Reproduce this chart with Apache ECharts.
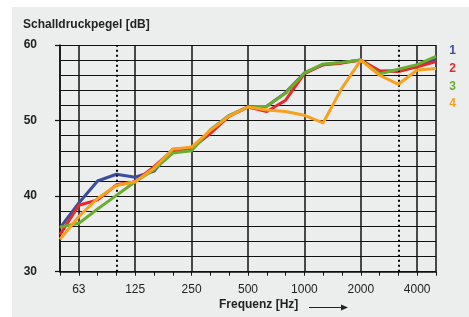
<!DOCTYPE html>
<html>
<head>
<meta charset="utf-8">
<script src="https://cdn.jsdelivr.net/npm/echarts@6/dist/echarts.min.js"></script>
<style>
html,body{margin:0;padding:0;background:#fff;}
#bg{position:absolute;left:12px;top:7px;right:0;bottom:0;width:457px;height:310px;background:#eceeed;}
#c{position:absolute;left:0;top:0;width:469px;height:317px;}
</style>
</head>
<body>
<div id="bg"></div>
<div id="c"></div>
<script>
const bands = ['50','63','80','100','125','160','200','250','315','400','500','630','800','1000','1250','1600','2000','2500','3150','4000','5000'];
const labelBands = ['63','125','250','500','1000','2000','4000'];
const dottedBands = ['100','3150'];
const yTicks = [30,40,50,60];
const s1 = [35.8,39.1,42.0,42.9,42.5,43.3,46.2,46.3,48.5,50.6,51.8,51.9,53.7,56.3,57.4,57.7,58.0,56.5,56.6,57.3,58.1];
const s2 = [34.9,38.8,39.5,41.5,41.9,43.9,46.1,46.3,48.3,50.6,51.8,51.2,52.7,56.2,57.4,57.6,58.0,56.6,56.5,57.1,57.8];
const s3 = [35.9,36.4,38.3,40.1,41.9,43.5,45.7,46.0,48.8,50.7,51.8,51.9,53.6,56.3,57.5,57.7,58.0,56.2,56.8,57.4,58.5];
const s4 = [34.3,37.3,39.7,41.4,41.9,43.7,46.2,46.5,48.7,50.6,51.8,51.4,51.2,50.7,49.7,54.3,58.0,56.0,54.8,56.7,56.9];
const names = ['1','2','3','4'];
const colors = ['#3a4d9e','#e8262b','#6aae2e','#f8a11f'];
const seriesData = [s1,s2,s3,s4];

const solidIdx = [0,20].concat(labelBands.map(b=>bands.indexOf(b)));
const font = 'Liberation Sans, Arial, sans-serif';

const chart = echarts.init(document.getElementById('c'), null, {renderer:'canvas'});
const series = seriesData.map((d,i)=>({
  type:'line', name:names[i], data:d, symbol:'none', smooth:false,
  xAxisIndex:0, yAxisIndex:0,
  lineStyle:{color:colors[i], width:3, join:'round'},
  z:3+i,
  markLine: i===0 ? {
    symbol:'none', silent:true, label:{show:false}, animation:false,
    lineStyle:{type:[2,3], color:'#000', width:2},
    data: dottedBands.map(b=>({xAxis:b}))
  } : undefined
}));

chart.setOption({
  animation:false,
  grid:{left:60, top:45, right:33, bottom:45.3, containLabel:false},
  xAxis:[{
    type:'category', data:bands, boundaryGap:false,
    axisLine:{show:true, lineStyle:{color:'#111', width:1.5}},
    axisTick:{show:true, interval:0, length:4, lineStyle:{color:'#111', width:1}},
    axisLabel:{interval:(idx,val)=>labelBands.includes(val), color:'#222', fontFamily:font, fontSize:12, margin:12},
    splitLine:{show:true, interval:(idx)=>solidIdx.includes(idx), lineStyle:{color:'#111', width:1.5}}
  }],
  yAxis:[{
    type:'value', min:30, max:60, interval:2,
    axisLine:{show:true, lineStyle:{color:'#111', width:1.5}},
    axisTick:{show:false}, axisLabel:{show:false},
    splitLine:{show:true, lineStyle:{color:'#111', width:1.2}}
  },{
    type:'value', min:yTicks[0], max:yTicks[yTicks.length-1], interval:10, position:'left',
    axisLine:{show:false},
    axisTick:{show:true, length:5, lineStyle:{color:'#111', width:1.2}},
    axisLabel:{show:true, color:'#222', fontFamily:font, fontSize:12, fontWeight:'bold', margin:23, align:'right'},
    splitLine:{show:false}
  }],
  series: series,
  graphic:[
    {type:'text', left:23, top:19, style:{text:'Schalldruckpegel [dB]', font:'bold 12px '+font, fill:'#222'}},
    {type:'text', left:219, top:299, style:{text:'Frequenz [Hz]', font:'bold 12px '+font, fill:'#222'}},
    {type:'line', shape:{x1:309, y1:307.5, x2:342, y2:307.5}, style:{stroke:'#222', lineWidth:1}},
    {type:'polygon', shape:{points:[[341,304.5],[348,307.5],[341,310.5]]}, style:{fill:'#222'}},
  ].concat(names.map((n,i)=>({type:'text', x:452.5, y:51+17.7*i, style:{text:n, font:'bold 12px '+font, fill:colors[i], textAlign:'center', textVerticalAlign:'middle'}})))
});
</script>
</body>
</html>
